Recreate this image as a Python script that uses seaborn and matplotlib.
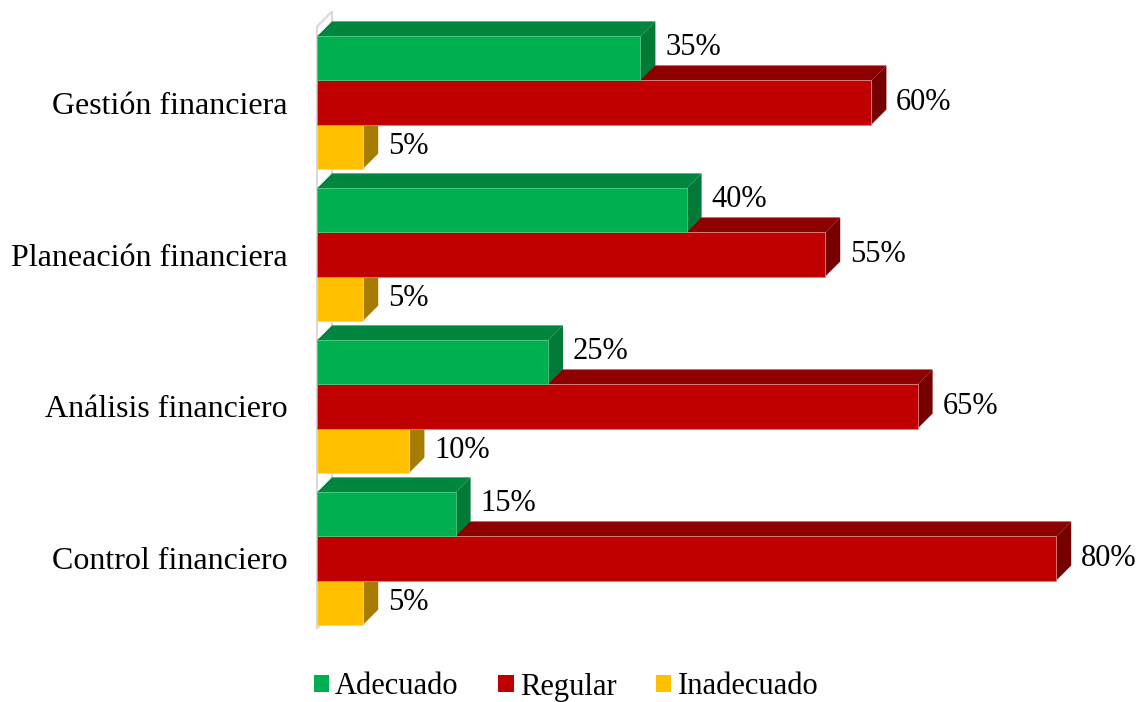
import matplotlib
matplotlib.use("Agg")
import matplotlib.pyplot as plt
import seaborn as sns
import pandas as pd
from matplotlib.patches import Polygon, Patch
from matplotlib.lines import Line2D

categories = ["Gestión financiera", "Planeación financiera", "Análisis financiero", "Control financiero"]
series = ["Adecuado", "Regular", "Inadecuado"]
adecuado = [35, 40, 25, 15]
regular = [60, 55, 65, 80]
inadecuado = [5, 5, 10, 5]

front = {"Adecuado": "#00B050", "Regular": "#C00000", "Inadecuado": "#FFC000"}
top = {"Adecuado": "#00863E", "Regular": "#8C0000", "Inadecuado": "#C89800"}
side = {"Adecuado": "#007A36", "Regular": "#760000", "Inadecuado": "#A67C00"}
edge = {"Adecuado": "#4CC880", "Regular": "#E08080", "Inadecuado": "#FFD866"}

rows = []
for s, vals in zip(series, [adecuado, regular, inadecuado]):
    for c, v in zip(categories, vals):
        rows.append({"cat": c, "serie": s, "val": v})
df = pd.DataFrame(rows)

sns.set_theme(style="white")
plt.rcParams["font.family"] = ["Liberation Serif", "DejaVu Serif"]

W, H = 1140, 702
fig = plt.figure(figsize=(W / 100, H / 100), dpi=100)
left_px, right_px, top_px, bot_px = 317, 1130, 10, 640
ax = fig.add_axes([left_px / W, 1 - bot_px / H, (right_px - left_px) / W, (bot_px - top_px) / H])

px_per_x = 9.24
pitch = 152.0
xmax = (right_px - left_px) / px_per_x
y_top = -(102.5 - top_px) / pitch
y_bot = (bot_px - 102.5) / pitch

sns.barplot(data=df, y="cat", x="val", hue="serie", order=categories, hue_order=series,
            palette=front, width=0.87, orient="h", ax=ax, legend=False, saturation=1)

ax.set_xlim(0, xmax)
ax.set_ylim(y_bot, y_top)

dpx = 15
dx = dpx / px_per_x
dy = dpx / pitch

for s, cont in zip(series, ax.containers):
    for r in cont.patches:
        w = r.get_width()
        y = r.get_y()
        h = r.get_height()
        z = 10 - (y + h / 2)
        r.set_zorder(z)
        r.set_edgecolor(edge[s])
        r.set_linewidth(0.6)
        r.set_clip_on(False)
        tp = Polygon([(0, y), (w, y), (w + dx, y - dy), (dx, y - dy)], closed=True,
                     facecolor=top[s], edgecolor="none", zorder=z - 0.01, clip_on=False)
        sp = Polygon([(w, y), (w + dx, y - dy), (w + dx, y + h - dy), (w, y + h)], closed=True,
                     facecolor=side[s], edgecolor="none", zorder=z - 0.01, clip_on=False)
        ax.add_patch(tp)
        ax.add_patch(sp)
        yoff = 8 if s == "Adecuado" else 0
        ax.annotate(f"{int(w)}%", xy=(w + dx, y + h / 2), xytext=(7, yoff),
                    textcoords="offset points", ha="left", va="center",
                    fontsize=22, color="black", zorder=20)

# side wall
wall_c = "#D9D9D9"
yw_top = -0.5
yw_bot = 3.5 - 0.04
ax.add_line(Line2D([0, 0], [yw_top, yw_bot], color=wall_c, lw=1.5, clip_on=False, zorder=0))
ax.add_line(Line2D([dx, dx], [yw_top - dy, yw_bot - dy], color=wall_c, lw=1.5, clip_on=False, zorder=0))
ax.add_line(Line2D([0, dx], [yw_top, yw_top - dy], color=wall_c, lw=1.5, clip_on=False, zorder=0))
ax.add_line(Line2D([0, dx], [yw_bot, yw_bot - dy], color=wall_c, lw=1.5, clip_on=False, zorder=0))

for sp_ in ax.spines.values():
    sp_.set_visible(False)
ax.set_xticks([])
ax.set_xlabel("")
ax.set_ylabel("")
ax.tick_params(axis="y", length=0, pad=21, labelsize=23)
for t in ax.get_yticklabels():
    t.set_color("black")

handles = [Patch(facecolor=front[s], edgecolor="none", label=s) for s in series]
fig.legend(handles=handles, loc="center", bbox_to_anchor=(566 / W, 1 - 687 / H), ncol=3,
           frameon=False, fontsize=22, handlelength=0.5, handleheight=0.5,
           handletextpad=0.2, columnspacing=1.3, labelcolor="black")

fig.savefig("out.png", dpi=100)
